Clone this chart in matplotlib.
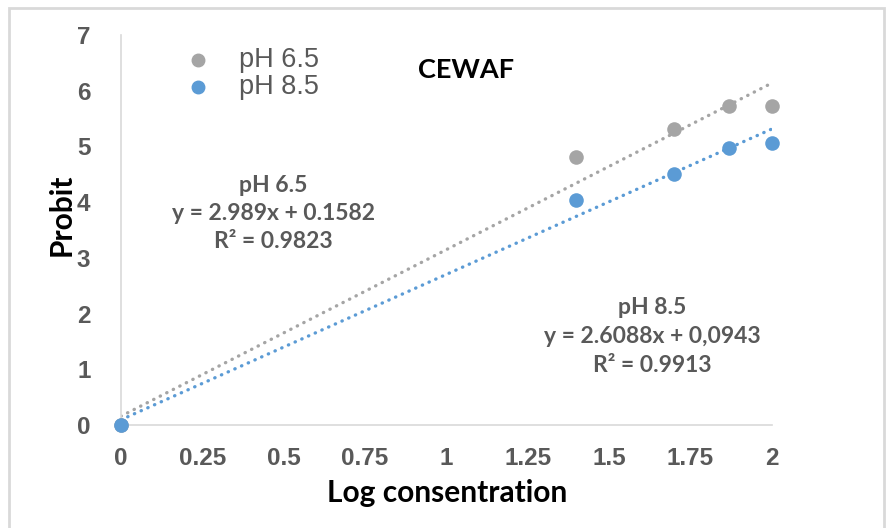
import matplotlib
matplotlib.use("Agg")
import matplotlib.pyplot as plt
import numpy as np
from matplotlib.patches import Rectangle

# Data
x_65 = [0.0, 1.4, 1.7, 1.87, 2.0]
y_65 = [0.0, 4.81, 5.31, 5.73, 5.73]
x_85 = [0.0, 1.4, 1.7, 1.87, 2.0]
y_85 = [0.0, 4.04, 4.51, 4.98, 5.06]
fit_65 = (2.989, 0.1582)
fit_85 = (2.6088, 0.0943)
fit_range = [0.0, 2.0]
x_ticks = [0, 0.25, 0.5, 0.75, 1, 1.25, 1.5, 1.75, 2]
x_tick_labels = ["0", "0.25", "0.5", "0.75", "1", "1.25", "1.5", "1.75", "2"]
y_ticks = [0, 1, 2, 3, 4, 5, 6, 7]

GRAY = "#A5A5A5"
BLUE = "#5B9BD5"
TXT = "#595959"

W, H = 894, 528
fig = plt.figure(figsize=(W / 100, H / 100), dpi=100)
fig.patch.set_facecolor("white")
fig.patches.append(Rectangle((9 / W, -0.05), (884 - 9) / W, 1.05 - 8 / H,
                             transform=fig.transFigure, fill=False,
                             edgecolor="#D9D9D9", linewidth=2))

ax = fig.add_axes([121 / W, 1 - 425 / H, (771.7 - 121) / W, (425 - 35) / H])
ax.set_facecolor("white")
ax.set_xlim(0, 2)
ax.set_ylim(0, 7)
for s in ["top", "right"]:
    ax.spines[s].set_visible(False)
for s in ["left", "bottom"]:
    ax.spines[s].set_color("#D9D9D9")
    ax.spines[s].set_linewidth(1.2)

fx = np.array(fit_range)
ax.plot(fx, fit_65[0] * fx + fit_65[1], linestyle=(0, (0.1, 2.1)),
        dash_capstyle="round", color=GRAY, linewidth=2.4, zorder=2)
ax.plot(fx, fit_85[0] * fx + fit_85[1], linestyle=(0, (0.1, 2.1)),
        dash_capstyle="round", color=BLUE, linewidth=2.4, zorder=2)

ax.scatter(x_65, y_65, s=110, color=GRAY, zorder=3, clip_on=False, linewidths=0)
ax.scatter(x_85, y_85, s=110, color=BLUE, zorder=4, clip_on=False, linewidths=0)

ax.set_xticks(x_ticks)
ax.set_xticklabels(x_tick_labels)
ax.set_yticks(y_ticks)
ax.tick_params(length=0, labelsize=17.5, labelcolor=TXT)
ax.tick_params(axis="x", pad=16)
ax.tick_params(axis="y", pad=22)
for lab in ax.get_xticklabels() + ax.get_yticklabels():
    lab.set_fontfamily("Liberation Sans")
    lab.set_fontweight("bold")


def fpos(px, py):
    return px / W, 1 - py / H


fig.text(*fpos(447, 493), "Log consentration", fontsize=21.5, fontweight="bold",
         fontfamily="Lato", color="black", ha="center", va="center")
fig.text(*fpos(62, 215), "Probit", fontsize=21.5, fontweight="bold",
         fontfamily="Lato", color="black", ha="center", va="center", rotation=90)

# legend
for (py, col, lab) in [(60, GRAY, "pH 6.5"), (87, BLUE, "pH 8.5")]:
    fig.lines.append(plt.Line2D([198 / W], [1 - py / H], marker="o", markersize=9,
                                color=col, linestyle="none",
                                transform=fig.transFigure))
    fig.text(*fpos(239, py), lab, fontsize=19.5, fontfamily="Liberation Sans",
             color=TXT, va="center", ha="left")

fig.text(*fpos(466, 70), "CEWAF", fontsize=19.5, fontweight="bold",
         fontfamily="Lato", color="black", ha="center", va="center")

eq1 = ["pH 6.5", "y = 2.989x + 0.1582", "R² = 0.9823"]
eq2 = ["pH 8.5", "y = 2.6088x + 0,0943", "R² = 0.9913"]
for i, t in enumerate(eq1):
    fig.text(*fpos(273, 186 + i * 28), t, fontsize=16.5, fontweight="bold",
             fontfamily="Lato", color=TXT, ha="center", va="center")
for i, t in enumerate(eq2):
    fig.text(*fpos(652, 307 + i * 29.5), t, fontsize=16.5, fontweight="bold",
             fontfamily="Lato", color=TXT, ha="center", va="center")

fig.savefig("out.png", dpi=100)
